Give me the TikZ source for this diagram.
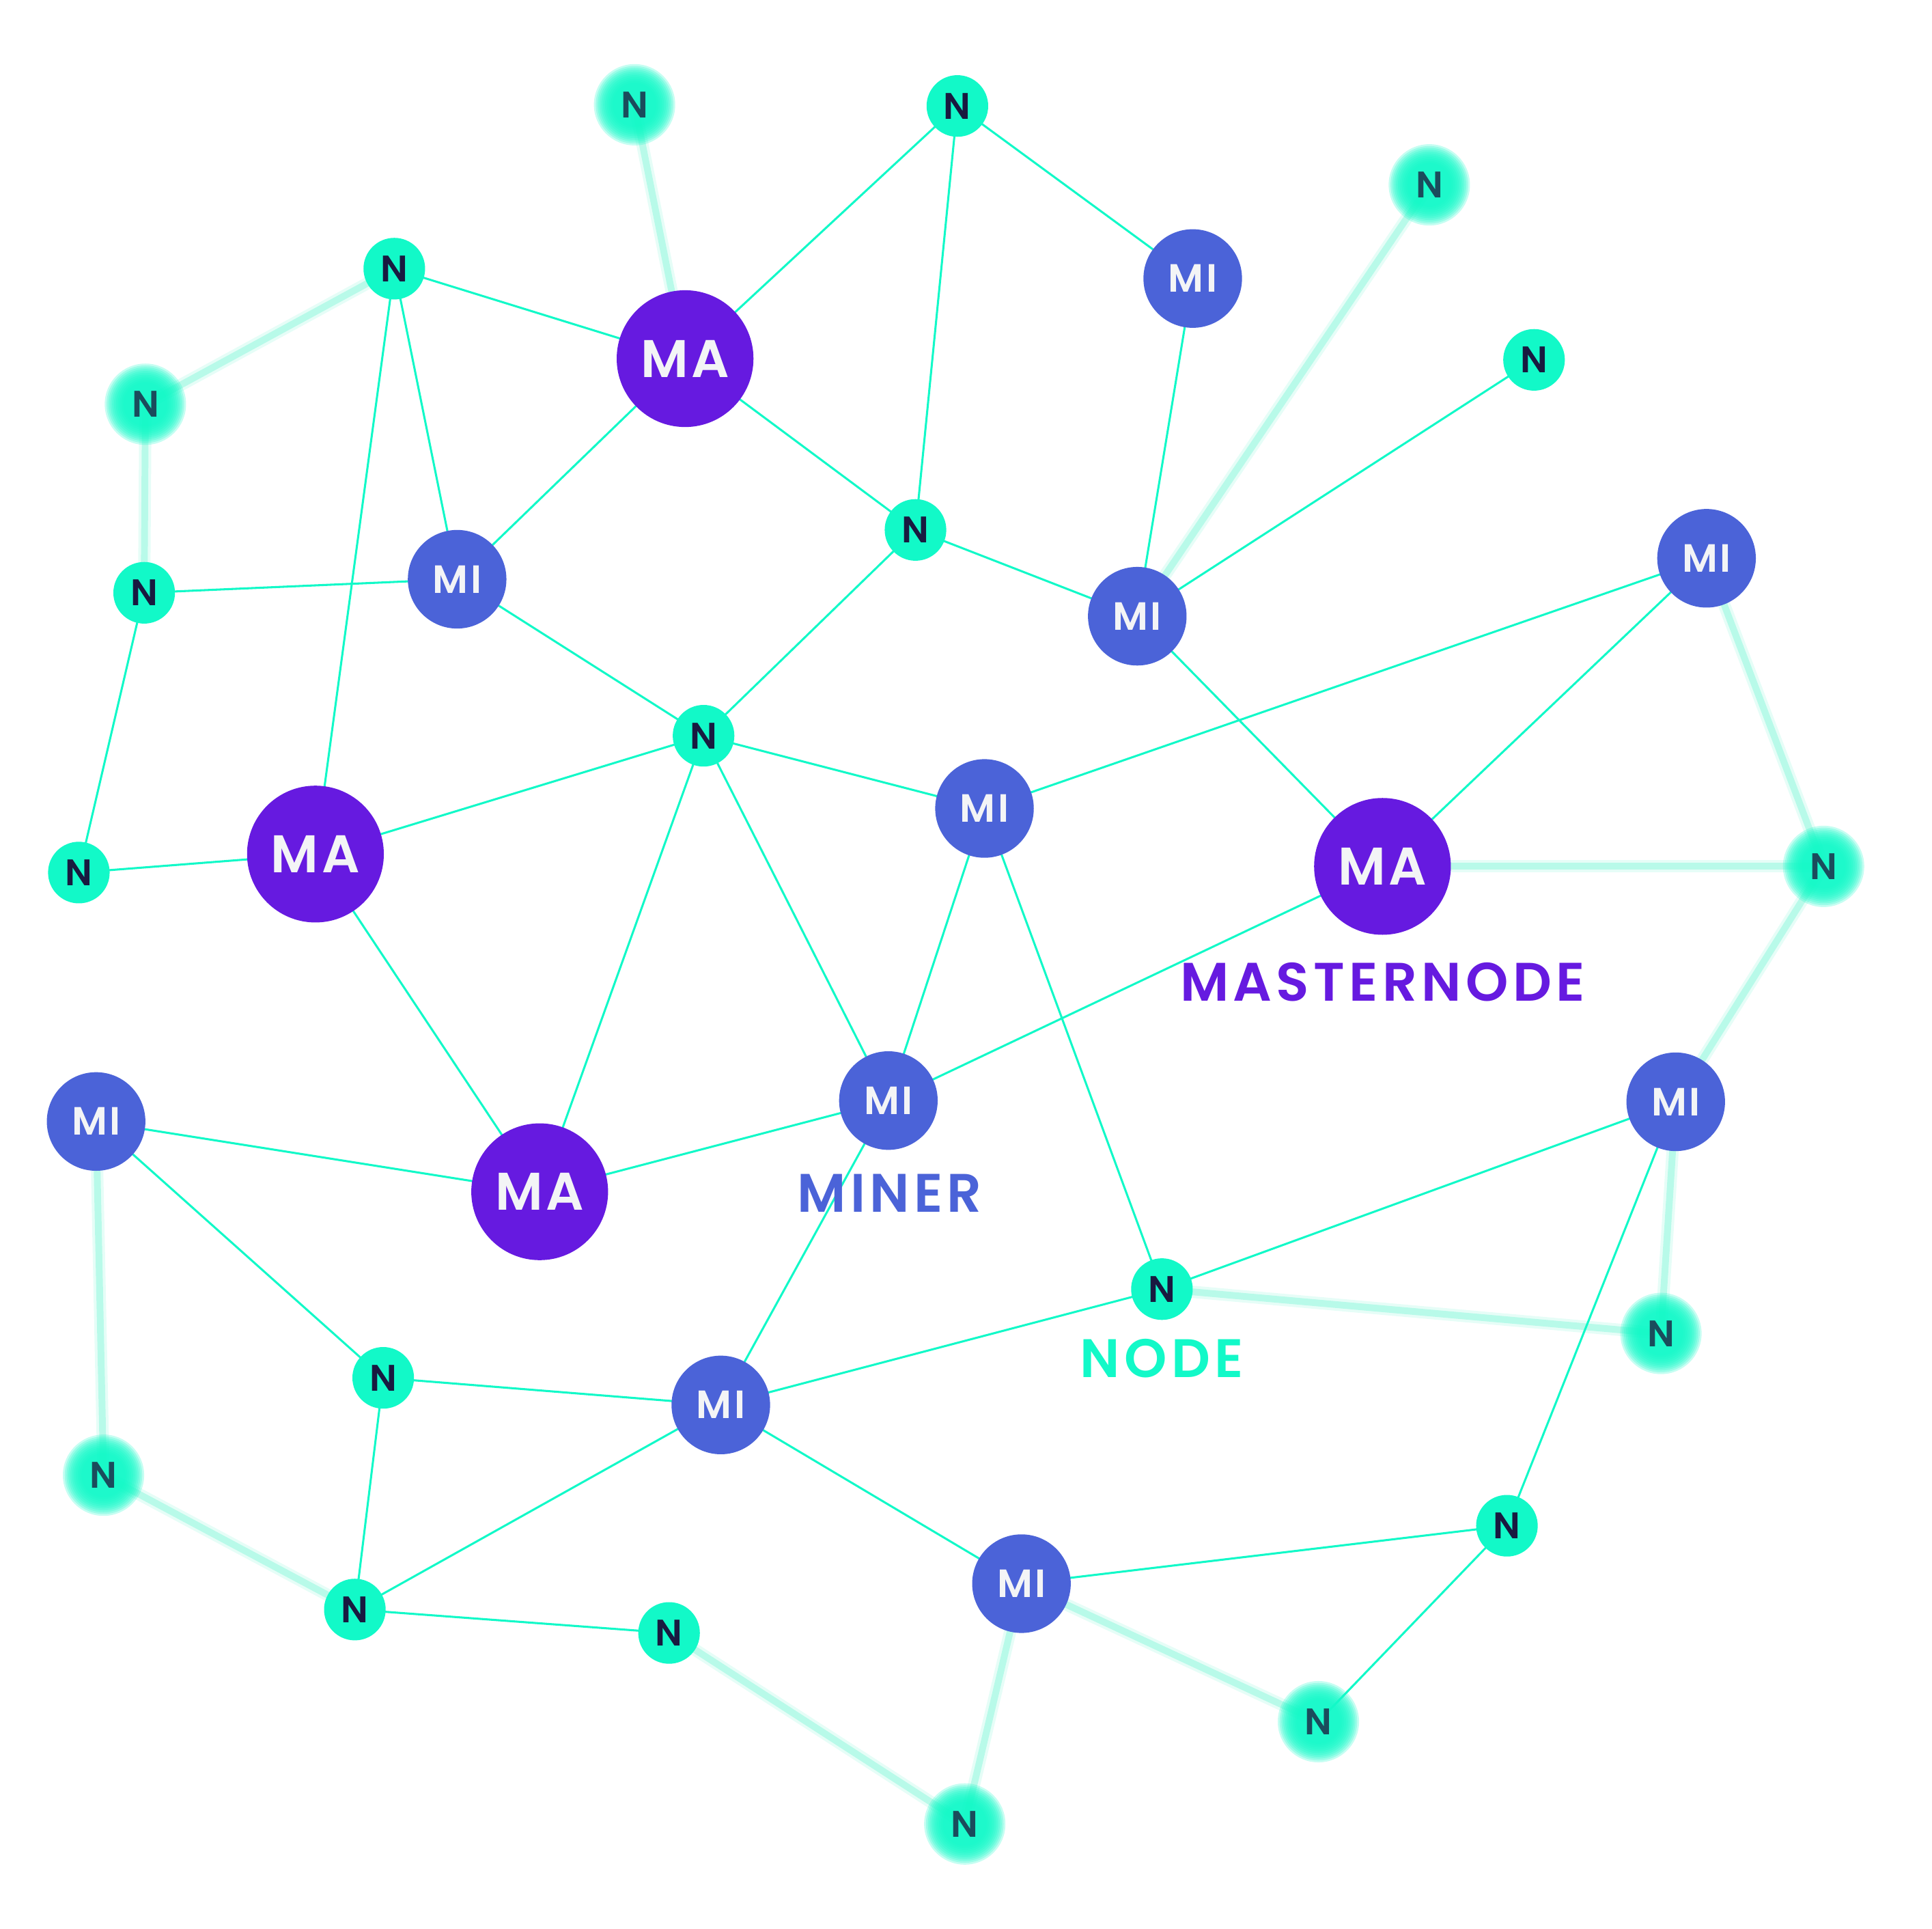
\documentclass[tikz,border=0pt]{standalone}
\usepackage{fontspec}
\setmainfont{Poppins}[BoldFont={Poppins SemiBold}]
\usetikzlibrary{backgrounds}
\definecolor{ma}{HTML}{661AE0}
\definecolor{mi}{HTML}{4B63D8}
\definecolor{nd}{HTML}{12F9C8}
\definecolor{ntext}{HTML}{191A40}
\definecolor{wtext}{HTML}{F3F4F6}
\definecolor{pale}{HTML}{B8FAE9}
\definecolor{blurtext}{HTML}{1B4C5C}
\newcommand\blurN[2]{%
  \foreach \rr in {18,19.5,...,33} {\fill[nd,fill opacity=0.24] (#2) circle (\rr pt);}
  \node[text=blurtext,font=\bfseries\fontsize{30}{30}\selectfont,inner sep=0pt,minimum size=50pt] (#1) at (#2) {N};
}
\begin{document}
\begin{tikzpicture}[x=1pt,y=-1pt,
  nnode/.style={circle,fill=nd,minimum size=50pt,inner sep=0pt,text=ntext,font=\bfseries\fontsize{30}{30}\selectfont},
  minode/.style={circle,fill=mi,minimum size=80pt,inner sep=0pt,text=wtext,font=\bfseries\fontsize{32}{32}\selectfont\addfontfeature{LetterSpace=6}},
  manode/.style={circle,fill=ma,minimum size=111pt,inner sep=0pt,text=wtext,font=\bfseries\fontsize{43}{43}\selectfont\addfontfeature{LetterSpace=6}},
  edge/.style={draw=nd,line width=1.7pt},
  faint/.style={draw=pale,line width=5.5pt},
  faintglow/.style={draw=pale,line width=10pt,draw opacity=0.35},
  lab/.style={font=\bfseries\fontsize{44}{44}\selectfont\addfontfeature{LetterSpace=8}}
]
\useasboundingbox (0,0) rectangle (1568,1565);
% sharp nodes
\node[nnode] (n1) at (777,86) {N};
\node[nnode] (n2) at (320,218) {N};
\node[nnode] (n3) at (1245,292) {N};
\node[nnode] (n4) at (743,430) {N};
\node[nnode] (n5) at (117,481) {N};
\node[nnode] (n6) at (571,597) {N};
\node[nnode] (n7) at (64,708) {N};
\node[nnode] (n8) at (943,1046) {N};
\node[nnode] (n9) at (311,1118) {N};
\node[nnode] (n10) at (1223,1238) {N};
\node[nnode] (n11) at (288,1306) {N};
\node[nnode] (n12) at (543,1325) {N};
\node[minode] (m1) at (968,226) {MI};
\node[minode] (m2) at (371,470) {MI};
\node[minode] (m3) at (923,500) {MI};
\node[minode] (m4) at (1385,453) {MI};
\node[minode] (m5) at (799,656) {MI};
\node[minode] (m6) at (721,893) {MI};
\node[minode] (m7) at (78,910) {MI};
\node[minode] (m8) at (1360,894) {MI};
\node[minode] (m9) at (585,1140) {MI};
\node[minode] (m10) at (829,1285) {MI};
\node[manode] (a1) at (556,291) {MA};
\node[manode] (a2) at (256,693) {MA};
\node[manode] (a3) at (1122,703) {MA};
\node[manode] (a4) at (438,967) {MA};
% blurred nodes
\blurN{b1}{515,85}
\blurN{b2}{1160,150}
\blurN{b3}{118,328}
\blurN{b4}{1480,703}
\blurN{b5}{1348,1082}
\blurN{b6}{84,1197}
\blurN{b7}{1070,1397}
\blurN{b8}{783,1480}
% labels
\node[lab,text=ma] (lma) at (1122,797) {MASTERNODE};
\node[lab,text=mi] (lmi) at (722,968) {MINER};
\node[lab,text=nd] (lnd) at (943,1102) {NODE};
\begin{scope}[on background layer]
  \foreach \a/\b in {b1/a1,b2/m3,n2/b3,b3/n5,m4/b4,a3/b4,b4/m8,m8/b5,n8/b5,m7/b6,b6/n11,n12/b8,m10/b8,m10/b7}
    {\draw[faintglow] (\a.center) -- (\b.center);
     \draw[faint] (\a.center) -- (\b.center);}
  \foreach \a/\b in {n1/a1,n1/n4,n1/m1,n2/a1,n2/m2,n2/a2,a1/m2,a1/n4,m1/m3,n3/m3,n4/m3,n4/n6,n5/m2,n5/n7,m2/n6,n7/a2,a2/n6,a2/a4,n6/m5,n6/a4,n6/m6,m5/m4,m4/a3,m3/a3,m5/m6,m5/n8,a3/m6,m6/a4,m7/a4,m7/n9,m6/m9,n8/m8,n8/m9,m8/n10,n9/m9,n9/n11,m9/n11,m9/m10,n11/n12,m10/n10,n10/b7}
    {\draw[edge] (\a.center) -- (\b.center);}
\end{scope}
\end{tikzpicture}
\end{document}
